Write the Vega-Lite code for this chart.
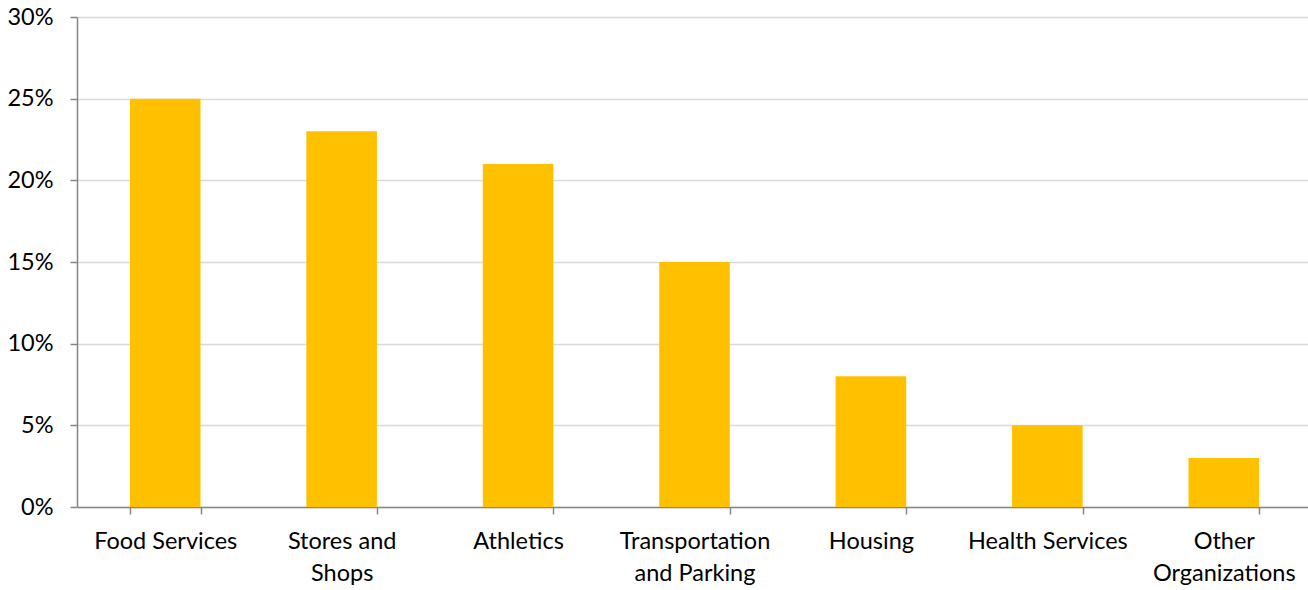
{
  "$schema": "https://vega.github.io/schema/vega-lite/v6.json",
  "width": 1235,
  "height": 490,
  "autosize": {"type": "none"},
  "padding": {"left": 77, "top": 17, "right": 0, "bottom": 83},
  "background": "white",
  "config": {
    "view": {"stroke": null},
    "font": "Lato"
  },
  "data": {
    "values": [
      {"category": "Food Services", "share": 0.25},
      {"category": "Stores and Shops", "share": 0.23},
      {"category": "Athletics", "share": 0.21},
      {"category": "Transportation and Parking", "share": 0.15},
      {"category": "Housing", "share": 0.08},
      {"category": "Health Services", "share": 0.05},
      {"category": "Other Organizations", "share": 0.03}
    ]
  },
  "mark": {"type": "bar", "color": "#FFC000"},
  "encoding": {
    "x": {
      "field": "category",
      "type": "nominal",
      "sort": null,
      "scale": {"paddingInner": 0.6, "paddingOuter": 0.3},
      "axis": {
        "title": null,
        "labelAngle": 0,
        "labelFontSize": 23.5,
        "labelColor": "#000000",
        "labelPadding": 15,
        "labelLineHeight": 32,
        "labelExpr": "datum.value == 'Stores and Shops' ? ['Stores and', 'Shops'] : datum.value == 'Transportation and Parking' ? ['Transportation', 'and Parking'] : datum.value == 'Other Organizations' ? ['Other', 'Organizations'] : datum.value",
        "domainColor": "#868686",
        "domainWidth": 1.5,
        "tickColor": "#868686",
        "tickWidth": 1.5,
        "tickSize": 7,
        "tickBand": "extent",
        "labelLimit": 300
      }
    },
    "y": {
      "field": "share",
      "type": "quantitative",
      "scale": {"domain": [0, 0.3], "nice": false},
      "axis": {
        "title": null,
        "values": [0, 0.05, 0.1, 0.15, 0.2, 0.25, 0.3],
        "format": ".0%",
        "labelFontSize": 23.5,
        "labelColor": "#000000",
        "labelPadding": 17,
        "domainColor": "#868686",
        "domainWidth": 1.5,
        "tickColor": "#868686",
        "tickWidth": 1.5,
        "tickSize": 7,
        "gridColor": "#D9D9D9",
        "gridWidth": 1.5
      }
    }
  }
}
